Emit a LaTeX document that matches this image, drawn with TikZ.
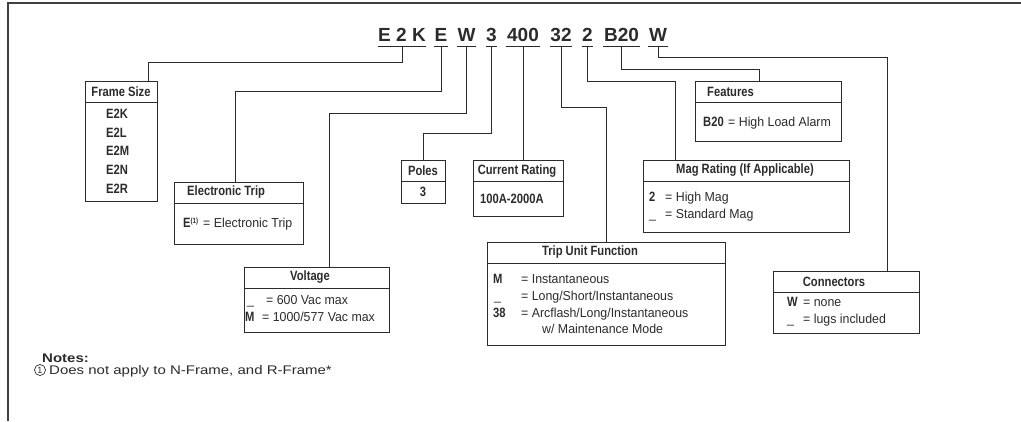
\documentclass[tikz,border=0pt]{standalone}
\usepackage{fontspec}
\setmainfont{Liberation Sans}
\newfontfamily\condfont{Liberation Sans}[FakeStretch=0.83]
\newfontfamily\bodyfont{Liberation Sans}[FakeStretch=0.95]
\newfontfamily\notefont{Liberation Sans}[FakeStretch=1.2]
\usetikzlibrary{calc}
\definecolor{ink}{HTML}{2B2B2B}
\begin{document}
\begin{tikzpicture}[x=1pt,y=-1pt,
  code/.style={anchor=base,inner sep=0pt,font=\fontsize{19}{22}\selectfont\bfseries,text=ink},
  uline/.style={draw=ink,line width=1.6pt},
  conn/.style={draw=ink,line width=0.9pt},
  box/.style={draw=ink,line width=0.9pt,anchor=north west,inner sep=0pt},
  div/.style={draw=ink,line width=0.9pt},
  head/.style={inner sep=0pt,font=\condfont\fontsize{13.5}{16}\selectfont\bfseries,text=ink},
  key/.style={anchor=base west,inner sep=0pt,font=\condfont\fontsize{13.5}{16}\selectfont\bfseries,text=ink},
  body/.style={anchor=base west,inner sep=0pt,font=\bodyfont\fontsize{13}{16}\selectfont,text=ink},
  note/.style={anchor=base west,inner sep=0pt,text=ink}
]
\useasboundingbox (0,0) rectangle (1021,421);
% outer frame
\draw[draw=black!75,line width=1.1pt] (8,421) -- (8,3) -- (1021,3);

% code tokens
\node[code] (k1) at (402,41) {E 2 K};
\node[code] (k2) at (441,41) {E};
\node[code] (k3) at (466.5,41) {W};
\node[code] (k4) at (491.5,41) {3};
\node[code] (k5) at (523,41) {400};
\node[code] (k6) at (561,41) {32};
\node[code] (k7) at (587.5,41) {2};
\node[code] (k8) at (621.5,41) {B20};
\node[code] (k9) at (658,41) {W};
\foreach \k in {k1,k2,k3,k4,k5,k6,k7,k8,k9}{
  \draw[uline] ($(\k.base west)+(-0.5,5.5)$) -- ($(\k.base east)+(0.5,5.5)$);
}

% boxes
\node[box,minimum width=72pt,minimum height=120pt] (fs) at (85,81) {};
\node[box,minimum width=129pt,minimum height=62pt] (et) at (174,182) {};
\node[box,minimum width=145pt,minimum height=65pt] (vo) at (244,267) {};
\node[box,minimum width=44pt,minimum height=43pt] (po) at (401,160) {};
\node[box,minimum width=90pt,minimum height=56pt] (cr) at (473,160) {};
\node[box,minimum width=238pt,minimum height=103pt] (tu) at (487,242) {};
\node[box,minimum width=206pt,minimum height=72pt] (mr) at (643,160) {};
\node[box,minimum width=146pt,minimum height=60pt] (fe) at (695,81) {};
\node[box,minimum width=146pt,minimum height=62pt] (co) at (773,271) {};
\foreach \b in {fs,et,vo,po,cr,tu,mr,fe,co}{
  \draw[div] ($(\b.north west)+(0,21)$) -- ($(\b.north east)+(0,21)$);
}

% connectors
\draw[conn] ($(k1.base)+(0,6)$) -- ++(0,15) -| ($(fs.north east)+(-9,0)$);
\draw[conn] ($(k2.base)+(0,6)$) -- ++(0,44) -| ($(et.north west)+(61,0)$);
\draw[conn] ($(k3.base)+(0,6)$) -- ++(0,66) -| ($(vo.north west)+(85,0)$);
\draw[conn] ($(k4.base)+(0,6)$) -- ++(0,86) -| (po.north);
\draw[conn] ($(k5.base)+(0,6)$) -- ($(cr.north west)+(50,0)$);
\draw[conn] ($(k6.base)+(0,6)$) -- ++(0,60) -| (tu.north);
\draw[conn] ($(k7.base)+(0,6)$) -- ++(0,34) -| ($(mr.north west)+(32,0)$);
\draw[conn] ($(k8.base)+(0,6)$) -- ++(0,22) -| ($(fe.north west)+(64,0)$);
\draw[conn] ($(k9.base)+(0,6)$) -- ++(0,10) -| ($(co.north west)+(114,0)$);

% Frame Size
\node[head] (fsh) at (121,91.5) {Frame Size};
\node[key] (fs1) at (106,118.5) {E2K};
\node[key] (fs2) at (106,137) {E2L};
\node[key] (fs3) at (106,155.5) {E2M};
\node[key] (fs4) at (106,174.5) {E2N};
\node[key] (fs5) at (106,193.5) {E2R};

% Electronic Trip
\node[head,anchor=west] (eth) at (187,192.5) {Electronic Trip};
\node[key] (et1) at (183,227.5) {E\raisebox{4pt}{\fontsize{7.5}{8}\selectfont (1)}};
\node[body] (et2) at (203,227.5) {= Electronic Trip};

% Voltage
\node[head] (voh) at (310,277.5) {Voltage};
\node[body] (vo1k) at (247,304) {\_};
\node[body] (vo1) at (266,304) {= 600 Vac max};
\node[key] (vo2k) at (245,321.5) {M};
\node[body] (vo2) at (262,321.5) {= 1000/577 Vac max};

% Poles
\node[head] (poh) at (423,170.5) {Poles};
\node[head] (po1) at (423,192) {3};

% Current Rating
\node[head] (crh) at (517,171) {Current Rating};
\node[key] (cr1) at (480,203.5) {100A-2000A};

% Trip Unit Function
\node[head] (tuh) at (590,252.5) {Trip Unit Function};
\node[key] (tu1k) at (493,283.5) {M};
\node[body] (tu1) at (521,283.5) {= Instantaneous};
\node[body] (tu2k) at (494,300.5) {\_};
\node[body] (tu2) at (521,300.5) {= Long/Short/Instantaneous};
\node[key] (tu3k) at (493,317.5) {38};
\node[body] (tu3) at (521,317.5) {= Arcflash/Long/Instantaneous};
\node[body] (tu4) at (542,333) {w/ Maintenance Mode};

% Mag Rating
\node[head] (mrh) at (745,170.5) {Mag Rating (If Applicable)};
\node[key] (mr1k) at (649,201.5) {2};
\node[body] (mr1) at (665,201.5) {= High Mag};
\node[body] (mr2k) at (649,218.5) {\_};
\node[body] (mr2) at (665,218.5) {= Standard Mag};

% Features
\node[head,anchor=west] (feh) at (707,91.5) {Features};
\node[key] (fe1k) at (703,126.5) {B20};
\node[body] (fe1) at (728,126.5) {= High Load Alarm};

% Connectors
\node[head] (coh) at (834,281.5) {Connectors};
\node[key] (co1k) at (787,306.5) {W};
\node[body] (co1) at (803,306.5) {= none};
\node[body] (co2k) at (787,323.5) {\_};
\node[body] (co2) at (803,323.5) {= lugs included};

% Notes
\node[note,font=\notefont\fontsize{12.5}{15}\selectfont\bfseries] (nt) at (42,362) {Notes:};
\node[circle,draw=ink,line width=0.7pt,inner sep=0pt,minimum size=11pt,font=\fontsize{9}{9}\selectfont,text=ink] (nc) at (40,370) {1};
\node[note,font=\notefont\fontsize{12.5}{15}\selectfont] (n1) at (49,374.5) {Does not apply to N-Frame, and R-Frame*};
\end{tikzpicture}
\end{document}
